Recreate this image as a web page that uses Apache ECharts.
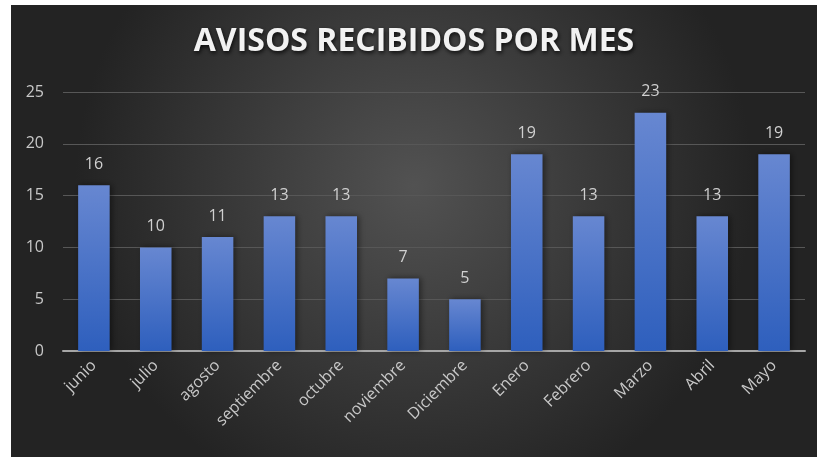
<!DOCTYPE html>
<html>
<head>
<meta charset="utf-8">
<script src="https://cdn.jsdelivr.net/npm/echarts@6/dist/echarts.min.js"></script>
<style>
  html, body { margin: 0; padding: 0; background: #fff; }
  #chart { position: absolute; left: 11px; top: 5px; width: 806px; height: 452px; }
</style>
</head>
<body>
<div id="chart"></div>
<script>
// Avisos recibidos por mes
var meses = ['junio', 'julio', 'agosto', 'septiembre', 'octubre', 'noviembre', 'Diciembre', 'Enero', 'Febrero', 'Marzo', 'Abril', 'Mayo'];
var avisos = [16, 10, 11, 13, 13, 7, 5, 19, 13, 23, 13, 19];
var yTicks = [0, 5, 10, 15, 20, 25];

var chartElem = document.getElementById('chart');
var chart = echarts.init(chartElem);
chart.setOption({
    animation: false,
    backgroundColor: {
        type: 'radial', x: 0.5, y: 0.4, r: 0.75,
        colorStops: [
            { offset: 0, color: '#525252' },
            { offset: 1, color: '#232323' }
        ]
    },
    title: {
        text: 'AVISOS RECIBIDOS POR MES',
        left: 'center',
        top: 16,
        textStyle: {
            fontFamily: 'Open Sans',
            fontWeight: 'bold',
            fontSize: 32,
            color: '#f2f2f2',
            textShadowColor: 'rgba(0,0,0,0.8)',
            textShadowBlur: 4,
            textShadowOffsetX: 1,
            textShadowOffsetY: 2
        }
    },
    grid: {
        left: 52,
        right: 12,
        top: 87,
        bottom: 106,
        containLabel: false
    },
    xAxis: [{
        type: 'category',
        data: meses,
        axisTick: { show: false },
        axisLine: { show: true, lineStyle: { color: '#a6a6a6', width: 2 } },
        axisLabel: {
            rotate: 45,
            margin: 12,
            color: '#c8c8c8',
            fontFamily: 'Open Sans',
            fontSize: 16
        }
    }],
    yAxis: [{
        type: 'value',
        min: yTicks[0],
        max: yTicks[yTicks.length - 1],
        interval: yTicks[1] - yTicks[0],
        axisLine: { show: false },
        axisTick: { show: false },
        axisLabel: {
            margin: 19,
            color: '#c8c8c8',
            fontFamily: 'Open Sans',
            fontSize: 16
        },
        splitLine: { show: true, lineStyle: { color: '#575757', width: 1 } }
    }],
    series: [{
        name: 'Avisos',
        type: 'bar',
        data: avisos,
        barWidth: '51%',
        label: {
            show: true,
            position: 'top',
            distance: 13,
            color: '#d0d0d0',
            fontFamily: 'Open Sans',
            fontSize: 16
        },
        itemStyle: {
            color: {
                type: 'linear', x: 0, y: 0, x2: 0, y2: 1,
                colorStops: [
                    { offset: 0, color: '#6787d1' },
                    { offset: 1, color: '#2e5fbd' }
                ]
            },
            shadowColor: 'rgba(0,0,0,0.45)',
            shadowBlur: 6,
            shadowOffsetX: 2
        }
    }]
});
</script>
</body>
</html>
